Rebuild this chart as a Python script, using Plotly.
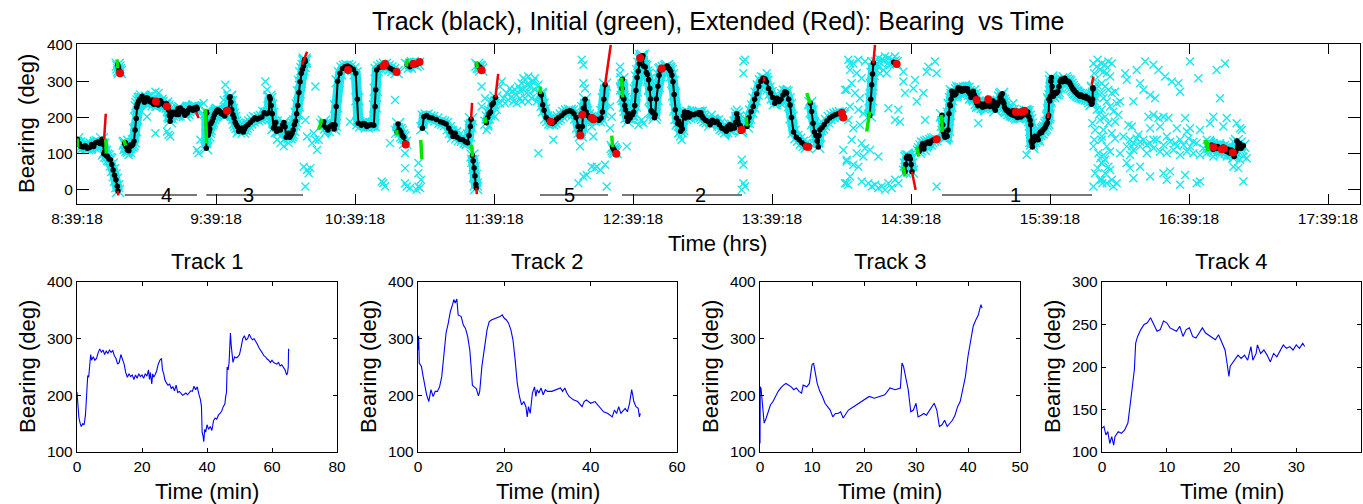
import plotly.graph_objects as go

FONT = "Liberation Sans, Arial, sans-serif"
CYAN = "rgb(25,232,238)"
GREEN = "rgb(0,230,0)"
RED = "rgb(240,0,0)"

# ---------------- tracks (minutes from track start, bearing in degrees) ----------------
track1_min = [0, 0.3, 0.6, 1.0, 1.3, 1.8, 2.2, 2.6, 3.0, 3.3, 3.6, 3.9, 4.2, 4.5, 5.0, 5.5, 6.0, 6.5, 7.0, 7.5,
              8.0, 8.5, 9.0, 9.5, 10.0, 10.5, 11.0, 11.5, 12.0, 12.5, 13.0, 13.5, 14.0, 14.5, 15.0, 15.5, 16.0,
              16.5, 17.0, 17.5, 18.0, 18.5, 19.0, 19.5, 20.0, 20.5, 21.0, 21.5, 22.0, 22.3, 22.6, 23.0, 23.3,
              23.6, 24.0, 24.5, 25.0, 25.5, 26.0, 26.3, 26.7, 27.0, 27.5, 28.0, 28.5, 29.0, 29.5, 30.0, 30.5,
              31.0, 31.5, 32.0, 32.5, 33.0, 33.5, 34.0, 34.5, 35.0, 35.5, 36.0, 36.5, 37.0, 37.5, 38.0, 38.3,
              38.5, 38.8, 39.0, 39.3, 39.6, 40.0, 40.5, 41.0, 41.5, 42.0, 42.5, 43.0, 43.5, 44.0, 44.5, 45.0,
              45.5, 45.8, 46.0, 46.2, 46.5, 46.8, 47.0, 47.2, 47.5, 47.8, 48.0, 48.5, 49.0, 49.5, 50.0, 50.5,
              51.0, 51.5, 52.0, 52.5, 53.0, 53.5, 54.0, 54.5, 55.0, 55.5, 56.0, 56.5, 57.0, 57.5, 58.0, 58.5,
              59.0, 59.5, 60.0, 60.5, 61.0, 61.5, 62.0, 62.5, 63.0, 63.5, 64.0, 64.5, 64.8, 65.0, 65.1, 65.2]
track1_deg = [206, 180, 160, 150, 145, 150, 148, 165, 210, 235, 232, 250, 272, 262, 268, 262, 265, 275, 282, 276,
              280, 272, 278, 274, 280, 276, 279, 270, 265, 255, 258, 272, 262, 255, 240, 232, 238,
              233, 236, 228, 236, 230, 238, 233, 236, 230, 238, 234, 245, 228, 240, 220, 238,
              232, 236, 243, 255, 262, 265, 245, 238, 228, 222, 218, 220, 212, 215, 208, 218,
              205, 207, 204, 200, 202, 204, 201, 205, 208, 207, 216, 210, 215, 202, 192, 180,
              135, 128, 118, 140, 135, 148, 140, 145, 138, 155, 160, 158, 165, 168, 172, 180,
              185, 200, 205, 250, 245, 258, 300, 310, 285, 262, 258, 268, 266, 268, 272, 285,
              300, 305, 298, 300, 308, 302, 298, 300, 296, 290, 284, 278, 275, 270, 268, 264,
              262, 258, 262, 258, 256, 255, 258, 252, 254, 250, 245, 236, 240, 250, 282, 278]

track2_min = [0, 0.15, 0.3, 0.8, 1.2, 1.5, 2.0, 2.5, 3.0, 3.5, 4.0, 4.5, 5.0, 5.5, 6.0, 6.5, 7.0, 7.5, 8.0,
              8.3, 8.6, 9.0, 9.3, 10.0, 10.5, 11.0, 11.5, 12.0, 12.3, 12.6, 13.0, 13.5, 14.0, 14.3, 14.8,
              15.5, 16.0, 16.5, 17.0, 18.0, 19.0, 19.5, 20.0, 20.5, 21.0, 21.5, 22.0, 22.5, 23.0, 23.5,
              24.0, 24.5, 25.0, 25.3, 25.6, 26.0, 26.5, 27.0, 27.3, 27.6, 28.0, 28.5, 29.0, 29.5, 30.0,
              31.0, 32.0, 33.0, 33.5, 34.0, 34.5, 35.0, 36.0, 37.0, 38.0, 38.5, 39.0, 40.0, 41.0, 42.0,
              43.0, 44.0, 45.0, 45.5, 46.0, 46.5, 47.0, 48.0, 48.5, 49.0, 49.5, 49.8, 50.0, 50.5, 51.0,
              51.3, 51.5]
track2_deg = [280, 305, 257, 251, 233, 221, 201, 189, 210, 198, 207, 207, 215, 233, 274, 310, 327, 348, 360,
              369, 363, 370, 342, 339, 324, 318, 304, 280, 251, 218, 215, 212, 199, 207, 251,
              286, 316, 330, 333, 336, 339, 342, 336, 333, 327, 316, 298, 263, 221, 198,
              183, 189, 180, 162, 180, 168, 204, 215, 198, 210, 204, 213, 201, 210, 207,
              207, 210, 213, 207, 213, 204, 198, 192, 189, 180, 189, 192, 186, 189, 180,
              171, 168, 162, 174, 168, 180, 168, 177, 171, 186, 210, 198, 189, 180, 177,
              162, 168]

track3_min = [0, 0.05, 0.2, 0.5, 0.8, 1.2, 1.5, 2.0, 2.5, 3.0, 3.5, 4.0, 4.5, 5.0, 5.5, 6.0, 6.5, 7.0, 7.5,
              8.0, 8.3, 9.0, 9.5, 10.0, 10.3, 10.6, 11.0, 11.5, 12.0, 12.5, 13.0, 13.5, 14.0, 14.5, 15.0,
              15.5, 16.0, 16.5, 17.0, 18.0, 19.0, 20.0, 21.0, 22.0, 23.0, 24.0, 25.0, 26.0, 27.0, 27.3,
              27.6, 28.0, 28.5, 29.0, 29.5, 30.0, 30.4, 31.0, 31.5, 32.0, 33.0, 33.5, 34.0, 34.5, 35.0,
              35.5, 36.0, 36.5, 37.0, 37.5, 38.0, 38.5, 39.0, 39.5, 40.0, 40.5, 41.0, 41.5, 42.0, 42.3,
              42.5, 42.7]
track3_deg = [115, 215, 212, 180, 151, 160, 168, 183, 189, 198, 207, 213, 218, 221, 218, 215, 210, 213, 207,
              204, 218, 215, 221, 254, 257, 242, 221, 207, 198, 186, 180, 174, 162, 168, 168,
              171, 160, 168, 174, 180, 186, 192, 198, 195, 198, 201, 213, 210, 213, 257,
              251, 233, 210, 171, 174, 186, 162, 165, 168, 165, 180, 186, 174, 145, 148,
              156, 145, 151, 156, 165, 180, 189, 210, 233, 269, 298, 322, 333, 342, 354,
              360, 354]

track4_min = [0, 0.3, 0.6, 0.9, 1.2, 1.5, 1.8, 2.0, 2.5, 3.0, 3.5, 4.0, 4.5, 5.0, 5.2, 5.5, 6.0, 6.5, 7.0,
              7.5, 8.0, 8.5, 9.0, 9.5, 10.0, 10.5, 11.0, 11.5, 12.0, 12.5, 13.0, 13.5, 14.0, 14.5, 15.0,
              15.5, 16.0, 17.0, 17.5, 18.0, 18.5, 19.0, 19.3, 19.6, 19.8, 20.5, 21.0, 21.5, 22.0, 22.5,
              23.0, 23.3, 23.8, 24.0, 24.5, 25.0, 25.5, 26.0, 26.5, 27.0, 27.5, 28.0, 28.5, 29.0, 29.5,
              30.0, 30.5, 31.0, 31.3]
track4_deg = [128, 130, 120, 124, 110, 118, 108, 118, 124, 122, 126, 134, 165, 197, 228, 236, 244, 250, 252,
              258, 250, 242, 244, 254, 252, 246, 244, 242, 248, 236, 244, 246, 236, 234, 240,
              246, 240, 234, 232, 238, 230, 220, 205, 189, 201, 208, 214, 210, 214, 208,
              224, 208, 216, 226, 216, 220, 214, 206, 216, 212, 220, 226, 222, 224, 220,
              226, 222, 228, 224]

# clock hour at which each numbered track begins / ends, and where its label sits
track_ids = ["1", "2", "3", "4", "5"]
track_begin_hr = [14.878, 12.576, 9.585, 8.998, 11.986]
track_end_hr = [15.957, 13.439, 10.281, 9.518, 12.475]
track_label_hr = [15.41, 13.137, 9.892, 9.302, 12.20]
track_bar_deg = -14

# ---------------- untracked black segments (clock hours, degrees) ----------------
seg_a_hr = [8.657, 8.67, 8.685, 8.70, 8.715, 8.73, 8.745, 8.76, 8.775, 8.79, 8.805, 8.82, 8.835, 8.845,
            8.848, 8.855, 8.865, 8.875, 8.885, 8.895, 8.905, 8.915, 8.925, 8.935, 8.945, 8.95]
seg_a_deg = [140, 128, 120, 118, 122, 115, 117, 125, 120, 130, 132, 128, 140, 125,
             100, 105, 95, 92, 85, 83, 70, 55, 40, 28, 10, -3]
isl1_hr = [8.948, 8.953, 8.958, 8.963]
isl1_deg = [345, 338, 330, 325]
seg_b_hr = [10.418, 10.43, 10.445, 10.46, 10.475, 10.49, 10.505, 10.511, 10.52, 10.53, 10.547, 10.565,
            10.583, 10.6, 10.62, 10.643, 10.66, 10.672, 10.679, 10.70, 10.715, 10.727, 10.74, 10.755,
            10.77, 10.79, 10.8, 10.804, 10.811, 10.83, 10.85, 10.871, 10.89, 10.91, 10.93, 10.955]
seg_b_deg = [180, 188, 172, 165, 175, 180, 168, 179, 230, 300, 322, 335,
             340, 342, 338, 333, 322, 250, 184, 178, 183, 182, 175, 178,
             180, 178, 230, 276, 331, 338, 342, 345, 340, 335, 331, 325]
seg_c_hr = [10.958, 10.965, 10.975, 10.985, 10.995, 11.005, 11.015]
seg_c_deg = [160, 182, 165, 160, 150, 145, 130]
isl2_hr = [11.03, 11.05, 11.07, 11.09, 11.11]
isl2_deg = [345, 340, 350, 345, 348]
seg_d_hr = [11.14, 11.15, 11.17, 11.19, 11.21, 11.24, 11.27, 11.29, 11.31, 11.33, 11.345, 11.36,
            11.375, 11.39, 11.41, 11.43, 11.45, 11.465, 11.475, 11.485, 11.49]
seg_d_deg = [170, 202, 205, 200, 198, 194, 188, 185, 182, 170, 160, 147,
             156, 145, 140, 138, 133, 130, 150, 175, 195]
seg_d2_hr = [11.50, 11.505, 11.512, 11.518, 11.524, 11.527]
seg_d2_deg = [95, 80, 60, 38, 15, 5]
isl3_hr = [11.535, 11.545, 11.555, 11.563]
isl3_deg = [345, 340, 338, 332]
seg_e_hr = [11.60, 11.61, 11.62, 11.63, 11.64, 11.65, 11.665]
seg_e_deg = [185, 200, 210, 215, 235, 240, 255]
track5_hr = [11.99, 11.995, 12.005, 12.015, 12.03, 12.046, 12.06, 12.075, 12.09, 12.105, 12.12, 12.142,
             12.16, 12.18, 12.2, 12.215, 12.23, 12.245, 12.26, 12.27, 12.28, 12.29, 12.298, 12.31,
             12.318, 12.33, 12.345, 12.36, 12.375, 12.39, 12.41, 12.425, 12.435, 12.445, 12.454]
track5_deg = [265, 262, 235, 220, 200, 193, 186, 183, 188, 195, 200, 205,
              212, 216, 218, 216, 210, 200, 175, 160, 150, 175, 225, 250,
              215, 205, 198, 196, 193, 195, 192, 198, 215, 250, 290]
seg_g_hr = [12.508, 12.515, 12.522, 12.53]
seg_g_deg = [118, 112, 108, 104]
seg_h_hr = [13.475, 13.48, 13.49, 13.505, 13.52, 13.53, 13.545, 13.56, 13.575, 13.59, 13.605, 13.615,
            13.63, 13.645, 13.66, 13.675, 13.69, 13.705, 13.72, 13.735, 13.748, 13.76, 13.775, 13.785,
            13.795, 13.81, 13.83, 13.85, 13.87, 13.89, 13.905]
seg_h_deg = [175, 188, 200, 216, 230, 250, 265, 285, 300, 308, 306, 298,
             280, 267, 255, 239, 253, 244, 250, 262, 271, 268, 250, 234,
             200, 160, 145, 138, 130, 124, 119]
seg_i_hr = [13.93, 13.94, 13.95, 13.96, 13.97, 13.98, 13.988, 13.993, 14.0, 14.015, 14.03, 14.05,
            14.07, 14.09, 14.11, 14.13, 14.15, 14.165]
seg_i_deg = [240, 216, 184, 160, 150, 135, 118, 150, 166, 172, 180, 190,
             198, 203, 207, 210, 212, 205]
seg_j_hr = [14.358, 14.365, 14.372, 14.378, 14.384]
seg_j_deg = [205, 250, 290, 320, 350]
isl4_hr = [14.53, 14.545]
isl4_deg = [352, 350]
seg_k_hr = [14.612, 14.617, 14.622, 14.628, 14.636, 14.643, 14.65, 14.656, 14.662]
seg_k_deg = [50, 70, 88, 93, 90, 92, 85, 70, 50]
seg_l_hr = [14.712, 14.72, 14.73, 14.74, 14.748, 14.755, 14.765, 14.78, 14.79, 14.8, 14.815, 14.83]
seg_l_deg = [105, 112, 120, 128, 113, 125, 130, 133, 128, 135, 138, 140]
seg_m_hr = [16.806, 16.818, 16.828, 16.838, 16.85, 16.86, 16.872, 16.885, 16.9, 16.91, 16.925, 16.935,
            16.945, 16.958, 16.97, 16.98, 16.99, 17.0, 17.008, 17.02, 17.03, 17.046]
seg_m_deg = [119, 124, 112, 120, 114, 120, 115, 112, 118, 113, 106, 112,
             102, 110, 100, 92, 105, 135, 115, 128, 115, 122]

# ---------------- initial (green) and extended (red) pieces: [t0, t1], [b0, b1] ----------------
init_hr = [[8.656, 8.658], [8.862, 8.866], [8.943, 8.948], [8.991, 9.005], [9.58, 9.587],
           [10.394, 10.418], [10.955, 10.957], [11.026, 11.03], [11.128, 11.136], [11.494, 11.5],
           [11.53, 11.535], [11.59, 11.597], [11.986, 11.99], [12.502, 12.508], [12.574, 12.58],
           [13.47, 13.475], [13.905, 13.93], [14.336, 14.358], [14.6, 14.612], [14.696, 14.712],
           [14.875, 14.88], [16.77, 16.79], [16.78, 16.806]]
init_deg = [[142, 118], [140, 100], [360, 335], [138, 122], [224, 128],
            [166, 196], [165, 150], [340, 362], [138, 85], [125, 92],
            [355, 335], [200, 185], [285, 265], [150, 118], [310, 255],
            [200, 175], [267, 239], [161, 216], [64, 37], [119, 92],
            [207, 160], [138, 106], [136, 110]]
ext_hr = [[8.85, 8.862], [8.948, 8.952], [9.513, 9.53], [10.274, 10.31], [11.49, 11.497],
          [11.527, 11.532], [11.665, 11.685], [12.454, 12.495], [14.384, 14.396], [14.662, 14.688],
          [15.955, 15.967], [15.64, 15.645], [13.595, 13.6]]
ext_deg = [[140, 210], [-3, -15], [215, 198], [345, 381], [195, 240],
           [5, -12], [255, 320], [290, 400], [350, 400], [50, 0],
           [290, 313], [198, 215], [300, 312]]
ext_dot_hr = [8.965, 9.223, 9.302, 9.734, 10.605, 10.859, 10.871, 10.955, 11.02, 11.075, 11.12, 11.566,
              12.063, 12.276, 12.29, 12.36, 12.37, 12.535, 12.706, 12.862, 13.437, 13.905, 13.917,
              14.158, 14.168, 14.552, 14.84, 15.127, 15.211, 15.41, 15.45, 15.47, 16.83, 16.89,
              16.905, 16.97]
ext_dot_deg = [322, 244, 230, 218, 331, 342, 347, 325, 125, 347, 353, 330,
               188, 150, 207, 198, 195, 100, 364, 335, 166, 119, 119,
               213, 200, 347, 140, 248, 250, 215, 215, 218, 118, 112,
               114, 103]

# ---------------- loose detections (cyan crosses) ----------------
det_hr = [
    9.219, 9.243, 9.159, 9.219, 9.314, 9.326, 9.302, 9.566, 9.542, 9.530, 9.518, 9.722, 9.734, 9.710,
    10.010, 10.022, 10.034, 10.094, 10.118, 10.142, 10.178, 10.190, 10.250, 10.298, 10.310, 10.370,
    10.370, 10.382, 10.394, 10.286, 10.310, 10.334, 10.322, 10.298, 10.346, 10.358, 9.015, 8.991,
    9.027, 9.003, 10.094, 10.142,
    10.619, 10.943, 10.907, 11.015, 11.015, 11.015, 11.027, 11.051, 10.859, 10.871, 10.847, 11.111,
    11.111, 11.111, 11.123, 11.099, 11.13, 11.566, 11.590, 11.566, 11.614, 11.602, 11.711, 11.698,
    11.974, 12.082, 12.274, 12.286, 12.298, 12.298, 12.310, 12.298, 12.262, 12.358,
    11.722, 11.746, 11.758, 11.782, 11.806, 11.818, 11.830, 11.842, 11.854, 11.866, 11.878, 11.890,
    11.902, 11.914, 11.926, 11.938, 11.950, 11.962, 11.974, 11.986, 11.770, 11.794, 11.854, 11.902,
    11.926, 11.950, 11.734, 11.818, 11.878, 11.914, 11.842, 11.782, 11.998, 11.89, 11.866, 11.698,
    11.674, 11.662, 12.322, 12.42,
    12.370, 12.382, 12.454, 12.466, 12.562, 12.562, 12.490, 12.502, 12.490, 12.610, 12.646, 12.718,
    12.730, 12.694, 12.993, 12.981, 13.005, 13.221, 13.401, 13.461, 13.449, 13.449, 13.437, 13.449,
    13.449, 13.461, 13.437, 13.617, 14.216, 14.180, 14.168, 14.192, 14.180, 14.204, 12.358, 12.394,
    14.204, 14.240, 14.276, 14.324, 14.216, 14.264, 14.300, 14.228, 14.192, 14.252, 14.288, 14.216,
    14.276, 14.312, 14.204, 14.240, 14.288, 14.228, 14.300, 14.324, 14.264, 14.312, 14.192, 14.240,
    14.276, 14.216, 14.192, 14.300, 14.396, 14.444, 14.492, 14.540, 14.564, 14.468, 14.420, 14.516,
    14.372, 14.348,
    14.600, 14.600, 14.684, 14.672, 14.612, 14.744, 14.780, 14.768, 14.827, 14.839, 14.696, 14.564,
    14.540, 14.576, 14.492, 14.420, 14.360, 14.756, 14.744, 14.839, 15.139, 15.391, 15.487,
    14.420, 14.444, 14.468, 14.492, 14.516, 14.420, 14.456, 14.480, 14.432, 14.408, 14.504, 14.540,
    14.395, 14.43, 14.46, 14.49, 14.52,
    15.967, 15.991, 16.015, 15.979, 16.003, 16.027, 15.967, 15.991, 16.015, 15.979, 16.027, 15.967,
    16.003, 16.027, 15.979, 16.015, 15.967, 15.973, 15.997, 15.982, 16.007, 15.973, 15.997, 16.031,
    15.96, 16.017,
    16.027, 16.051, 16.075, 16.099, 16.039, 16.063, 16.087, 16.027, 16.051, 16.075, 16.099, 16.039,
    16.063, 16.087, 16.027, 16.111, 16.051, 16.075, 16.039, 16.099, 16.027, 16.063, 16.087, 16.039,
    16.027, 16.075, 16.051, 16.027, 16.111, 16.063, 16.123, 16.147, 16.135, 16.123,
    16.339, 16.399, 16.435, 16.483, 16.531, 16.579, 16.591, 16.662, 16.722, 16.854, 16.914, 16.878,
    16.279, 16.303, 16.327, 16.375, 16.411, 16.255, 16.159, 16.195, 16.207, 16.123,
    16.363, 16.399, 16.435, 16.471, 16.507, 16.627, 16.447, 16.375, 16.219, 16.243, 16.567, 16.639,
    16.662, 16.734, 16.806, 16.830, 16.926, 16.998, 17.022, 16.902,
    16.183, 16.231, 16.279, 16.327, 16.375, 16.423, 16.471, 16.519, 16.567, 16.615, 16.662, 16.710,
    16.758, 16.806, 16.854, 16.902, 16.950, 16.998, 16.207, 16.255, 16.303, 16.351, 16.399, 16.447,
    16.495, 16.543, 16.591, 16.639, 16.686, 16.734, 16.782, 16.830, 16.878, 16.926, 16.974, 17.022,
    16.231, 16.159, 16.255, 16.303, 16.351, 16.399, 16.291, 16.495, 16.591, 16.686, 16.782, 16.878,
    16.974, 16.243, 16.555, 16.651,
    16.207, 16.303, 16.231, 16.375, 16.255, 16.471, 16.495, 16.519, 16.591, 16.627, 16.710, 16.734,
    16.974, 17.010, 17.046, 16.135, 16.087, 16.051, 16.099, 17.034, 17.046, 17.070,
]
det_deg = [
    271, 267, 202, 156, 152, 147, 161, 239, 138, 101, 110, 290, 267, 248,
    299, 276, 193, 138, 129, 120, 129, 147, 290, 193, 147, 285,
    138, 110, 138, 64, 55, 60, 46, 9, 129, 156, 138, 110,
    96, 124, 156, 138,
    188, 248, 129, 101, 60, 18, 9, 5, 18, 9, 23, 74,
    46, 9, 5, 0, 28, 285, 253, 230, 175, 165, 299, 285,
    101, 138, 120, 359, 345, 294, 280, 37, 18, 64,
    253, 267, 248, 257, 276, 262, 285, 253, 294, 276, 303, 267,
    313, 285, 253, 299, 276, 244, 290, 257, 280, 244, 244, 244,
    299, 308, 239, 239, 253, 267, 276, 271, 239, 290, 308, 239,
    221, 202, 41, 55,
    147, 60, 69, 9, 340, 322, 230, 202, 170, 120, 193, 193,
    184, 179, 147, 156, 138, 207, 221, 359, 354, 322, 83, 69,
    18, 9, 0, 322, 349, 276, 110, 83, 18, 14, 175, 64,
    359, 349, 359, 354, 331, 322, 308, 294, 276, 267, 253, 230,
    221, 211, 193, 170, 179, 138, 129, 115, 101, 92, 78, 69,
    64, 37, 18, 23, 14, 9, 18, 28, 18, 0, 5, 5,
    9, 18,
    326, 299, 303, 280, 267, 267, 340, 326, 354, 322, 244, 221,
    193, 188, 225, 92, 110, 193, 129, 9, 184, 239, 96,
    363, 359, 368, 363, 359, 340, 331, 322, 322, 349, 345, 368,
    355, 352, 357, 350, 354,
    349, 340, 331, 303, 285, 267, 239, 221, 193, 165, 147, 120,
    101, 74, 46, 28, 9, 322, 359, 257, 207, 138, 60, 18,
    184, 87,
    349, 345, 354, 349, 326, 322, 313, 294, 285, 276, 267, 253,
    244, 230, 221, 216, 202, 184, 165, 156, 138, 120, 106, 96,
    74, 64, 46, 28, 9, 18, 188, 207, 239, 271,
    354, 345, 331, 313, 299, 294, 271, 354, 308, 331, 349, 253,
    331, 294, 276, 262, 253, 244, 244, 322, 304, 142,
    202, 207, 198, 202, 198, 198, 175, 170, 179, 175, 170, 161,
    170, 165, 184, 202, 198, 184, 170, 175,
    147, 138, 142, 138, 129, 138, 124, 133, 120, 124, 120, 129,
    115, 120, 124, 110, 120, 101, 120, 110, 120, 101, 115, 106,
    101, 110, 96, 106, 101, 96, 101, 92, 96, 92, 87, 83,
    96, 101, 129, 133, 124, 138, 152, 147, 138, 133, 138, 129,
    133, 120, 129, 142,
    74, 64, 60, 37, 32, 46, 28, 51, 14, 41, 18, 23,
    64, 60, 23, 18, 55, 83, 28, 165, 92, 87,
]

# x-axis tick positions (clock hours) and their labels
hour_ticks = [8.655, 9.655, 10.655, 11.655, 12.655, 13.655, 14.655, 15.655, 16.655, 17.655]
hour_labels = ["8:39:18", "9:39:18", "10:39:18", "11:39:18", "12:39:18", "13:39:18",
               "14:39:18", "15:39:18", "16:39:18", "17:39:18"]


def join(segments):
    """Concatenate (x, y) pieces into single arrays separated by gaps."""
    xs, ys = [], []
    for x, y in segments:
        xs += list(x) + [None]
        ys += list(y) + [None]
    return xs, ys


track_min = {1: track1_min, 2: track2_min, 3: track3_min, 4: track4_min}
track_deg = {1: track1_deg, 2: track2_deg, 3: track3_deg, 4: track4_deg}

pieces = [(seg_a_hr, seg_a_deg), (isl1_hr, isl1_deg), (seg_b_hr, seg_b_deg), (seg_c_hr, seg_c_deg),
          (isl2_hr, isl2_deg), (seg_d_hr, seg_d_deg), (seg_d2_hr, seg_d2_deg), (isl3_hr, isl3_deg),
          (seg_e_hr, seg_e_deg), (track5_hr, track5_deg), (seg_g_hr, seg_g_deg), (seg_h_hr, seg_h_deg),
          (seg_i_hr, seg_i_deg), (seg_j_hr, seg_j_deg), (isl4_hr, isl4_deg), (seg_k_hr, seg_k_deg),
          (seg_l_hr, seg_l_deg), (seg_m_hr, seg_m_deg)]
for k in (1, 2, 3, 4):
    start = track_begin_hr[track_ids.index(str(k))]
    pieces.append(([start + m / 60.0 for m in track_min[k]], track_deg[k]))

blk_x, blk_y = join(pieces)
init_x, init_y = join(zip(init_hr, init_deg))
ext_x, ext_y = join(zip(ext_hr, ext_deg))
bar_x, bar_y = join(([b, e], [track_bar_deg, track_bar_deg]) for b, e in zip(track_begin_hr, track_end_hr))
pt_x = [v for v in blk_x if v is not None]
pt_y = [v for v in blk_y if v is not None]

fig = go.Figure()

# overview panel
fig.add_trace(go.Scatter(x=det_hr, y=det_deg, mode="markers", xaxis="x", yaxis="y",
                         marker=dict(symbol="x-thin", size=8, line=dict(width=1.4, color=CYAN), color=CYAN)))
fig.add_trace(go.Scatter(x=blk_x, y=blk_y, mode="lines", xaxis="x", yaxis="y",
                         line=dict(color=CYAN, width=10)))
fig.add_trace(go.Scatter(x=pt_x, y=pt_y, mode="markers", xaxis="x", yaxis="y",
                         marker=dict(symbol="x-thin", size=12, line=dict(width=1.4, color=CYAN), color=CYAN)))
fig.add_trace(go.Scatter(x=bar_x, y=bar_y, mode="lines", xaxis="x", yaxis="y",
                         line=dict(color="rgb(120,120,120)", width=2)))
fig.add_trace(go.Scatter(x=blk_x, y=blk_y, mode="lines+markers", xaxis="x", yaxis="y",
                         line=dict(color="black", width=2),
                         marker=dict(symbol="circle", size=5.5, color="black")))
fig.add_trace(go.Scatter(x=init_x, y=init_y, mode="lines", xaxis="x", yaxis="y",
                         line=dict(color=GREEN, width=3.5)))
fig.add_trace(go.Scatter(x=ext_x, y=ext_y, mode="lines", xaxis="x", yaxis="y",
                         line=dict(color=RED, width=2.5)))
fig.add_trace(go.Scatter(x=ext_dot_hr, y=ext_dot_deg, mode="markers", xaxis="x", yaxis="y",
                         marker=dict(symbol="circle", size=8, color=RED)))

# individual track panels
order = [1, 2, 3, 4]
for i, k in enumerate(order):
    fig.add_trace(go.Scatter(x=track_min[k], y=track_deg[k], mode="lines",
                             xaxis=f"x{i + 2}", yaxis=f"y{i + 2}",
                             line=dict(color="rgb(0,0,255)", width=1.1)))

tick_font = dict(family=FONT, size=15.5, color="black")
axis_common = dict(showline=True, linecolor="black", linewidth=1.3, mirror="allticks",
                   ticks="inside", tickcolor="black", showgrid=False, zeroline=False,
                   tickfont=tick_font, fixedrange=True, automargin=False)

W, H = 1363, 504


def dx(px):
    return px / W


def dy(py):
    return 1 - py / H


layout = dict(
    width=W, height=H, margin=dict(l=0, r=0, t=0, b=0, pad=0, autoexpand=False),
    paper_bgcolor="white", plot_bgcolor="white", showlegend=False,
    font=dict(family=FONT, color="black"),
    xaxis=dict(axis_common, domain=[dx(77), dx(1360)], range=[8.655, 17.885],
               tickvals=hour_ticks, ticktext=hour_labels, ticklen=10, anchor="y"),
    yaxis=dict(axis_common, domain=[dy(204), dy(44)], range=[-39, 402.5],
               tickvals=[0, 100, 200, 300, 400], ticklen=12, anchor="x"),
)

panel_px = [(77, 337), (418, 677), (760, 1020), (1102, 1361)]
panel_xmax = [80, 60, 50, 40]
panel_xstep = [20, 20, 10, 10]
panel_yrange = [(100, 400), (100, 400), (100, 400), (100, 300)]
panel_ystep = [100, 100, 100, 50]
for i in range(4):
    n = i + 2
    layout[f"xaxis{n}"] = dict(axis_common, domain=[dx(panel_px[i][0]), dx(panel_px[i][1])],
                               range=[0, panel_xmax[i]], dtick=panel_xstep[i], tick0=0,
                               ticklen=4, anchor=f"y{n}")
    layout[f"yaxis{n}"] = dict(axis_common, domain=[dy(452), dy(282)],
                               range=list(panel_yrange[i]), dtick=panel_ystep[i], tick0=0,
                               ticklen=4, anchor=f"x{n}")

fig.update_layout(**layout)

title_font = dict(family=FONT, size=22, color="black")
ann = [
    dict(text="Track (black), Initial (green), Extended (Red): Bearing  vs Time",
         x=dx(718), y=dy(21), font=dict(family=FONT, size=25, color="black")),
    dict(text="Time (hrs)", x=dx(718), y=dy(243), font=title_font),
    dict(text="Bearing  (deg)", x=dx(26), y=dy(124), textangle=-90, font=title_font),
]
for i in range(4):
    cx = (panel_px[i][0] + panel_px[i][1]) / 2
    ann.append(dict(text=f"Track {order[i]}", x=dx(cx), y=dy(261), font=title_font))
    ann.append(dict(text="Time (min)", x=dx(cx), y=dy(491), font=title_font))
    ann.append(dict(text="Bearing (deg)", x=dx(panel_px[i][0] - 50), y=dy(367), textangle=-90,
                    font=title_font))
for tid, lx in zip(track_ids, track_label_hr):
    ann.append(dict(text=tid, x=lx, y=track_bar_deg, xref="x", yref="y",
                    font=dict(family=FONT, size=20, color="black")))
for a in ann:
    a.setdefault("xref", "paper")
    a.setdefault("yref", "paper")
    a.update(showarrow=False, xanchor="center", yanchor="middle")
fig.update_layout(annotations=ann)

fig.write_html("out.html")
